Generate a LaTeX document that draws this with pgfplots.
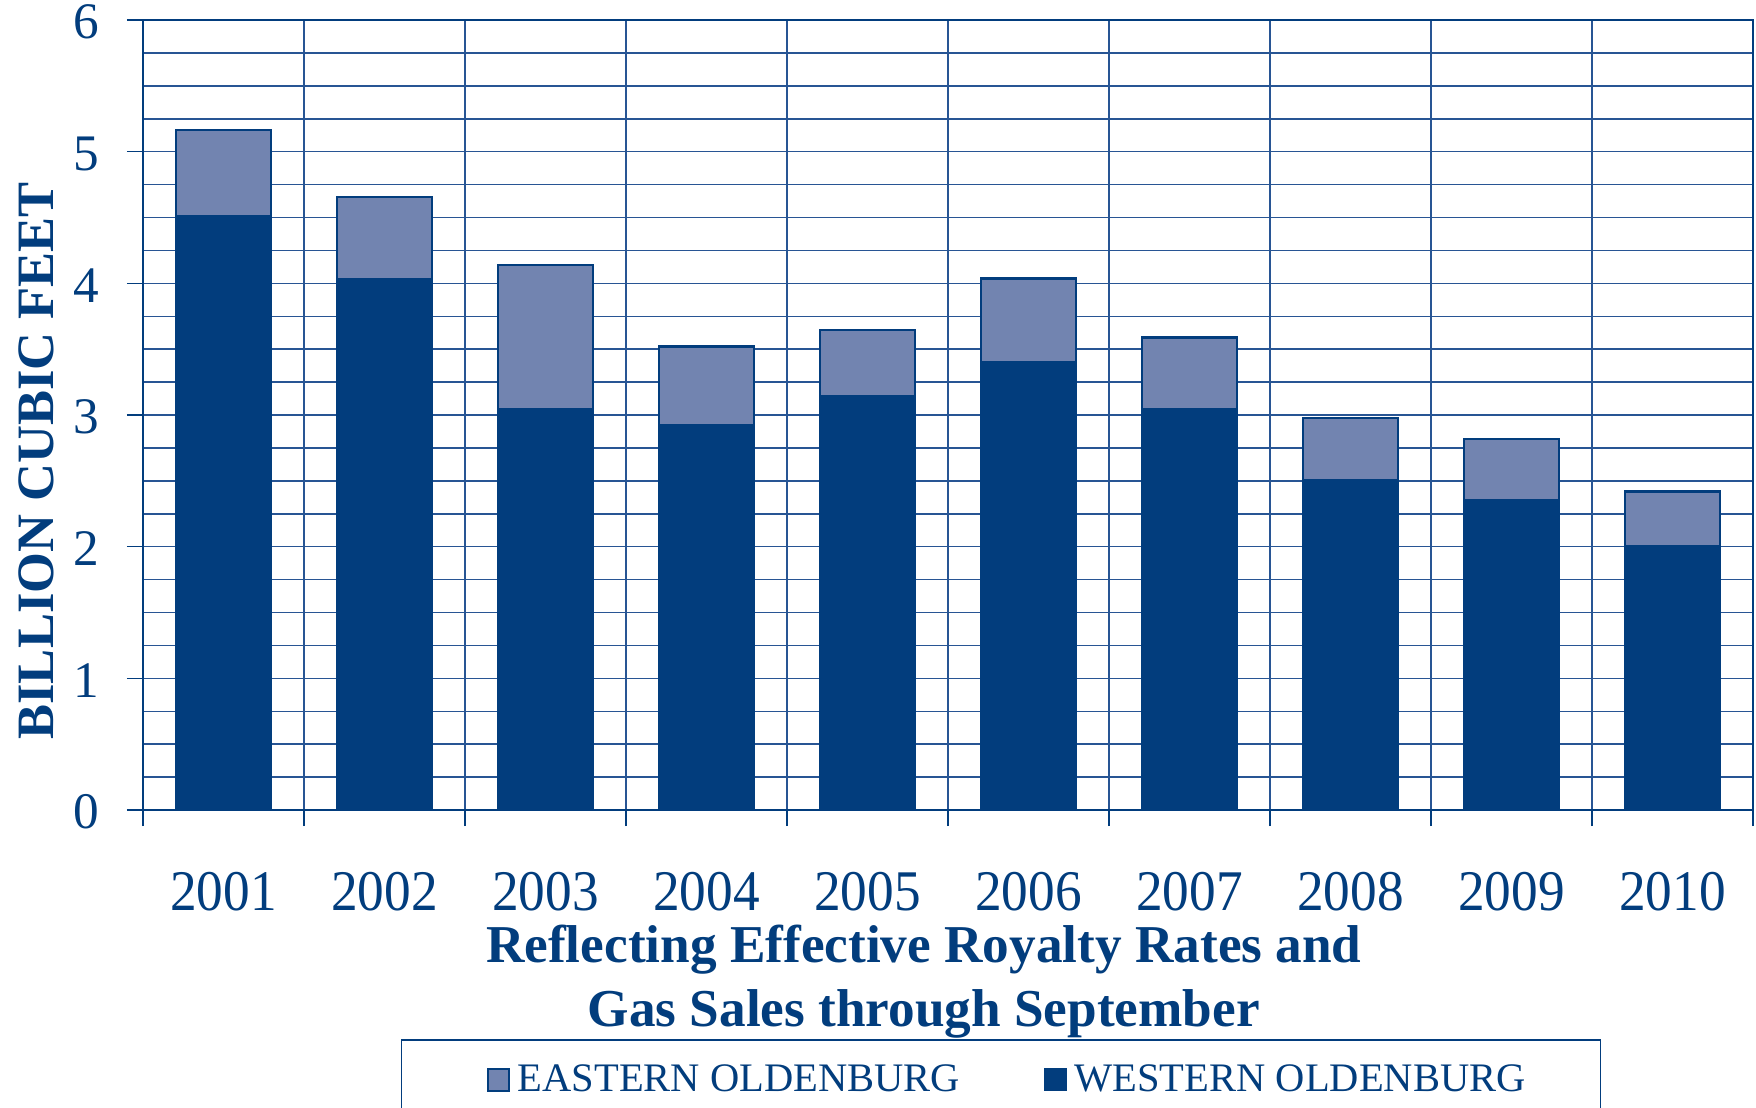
\documentclass[border=0pt]{standalone}
\usepackage{fontspec}
\setmainfont{Liberation Serif}
\usepackage{pgfplots}
\pgfplotsset{compat=1.18}
\definecolor{navy}{RGB}{2,61,125}
\definecolor{lightb}{RGB}{114,132,176}
\definecolor{gridc}{RGB}{40,85,148}
\begin{document}
\begin{tikzpicture}
\useasboundingbox (-57.2pt,-118.8pt) rectangle (645.2pt,324pt);
\begin{axis}[
  at={(0pt,0pt)}, anchor=south west,
  scale only axis, width=644pt, height=316pt,
  ybar stacked, bar width=38pt,
  xmin=-0.5, xmax=9.5, ymin=0, ymax=6,
  xtick={-0.5,0.5,...,9.5}, xticklabels={},
  extra x ticks={0,1,2,3,4,5,6,7,8,9},
  extra x tick labels={2001,2002,2003,2004,2005,2006,2007,2008,2009,2010},
  extra x tick style={major tick length=0pt, grid=none,
    tick label style={yshift=-21pt, font=\fontsize{21.3}{25}\selectfont, yscale=1.08}},
  ytick={0,1,2,3,4,5,6},
  minor ytick={0.25,0.5,0.75,1.25,1.5,1.75,2.25,2.5,2.75,3.25,3.5,3.75,4.25,4.5,4.75,5.25,5.5,5.75},
  grid=both,
  major grid style={gridc, line width=0.6pt},
  minor grid style={gridc, line width=0.6pt},
  tick align=outside, major tick length=6.4pt, minor tick length=0pt,
  tick style={navy, line width=0.6pt},
  xtick pos=bottom, ytick pos=left,
  axis line style={navy, line width=1pt},
  tick label style={font=\fontsize{21}{25}\selectfont, text=navy},
  yticklabel style={xshift=-7.6pt, yshift=-0.8pt, inner ysep=0pt, font=\fontsize{20.5}{24}\selectfont},
  /pgf/number format/assume math mode=true,
  ylabel={BILLION CUBIC FEET},
  ylabel style={font=\bfseries\fontsize{21}{25}\selectfont, text=navy, at={(axis description cs:-0.0665,0.442)}, anchor=center},
  xlabel={Reflecting Effective Royalty Rates and\\Gas Sales through September},
  xlabel style={align=center, font=\bfseries\fontsize{21.3}{25.6}\selectfont, text=navy, at={(axis description cs:0.485,-0.134)}, anchor=north},
  legend style={at={(axis description cs:0.16,-0.29)}, anchor=north west, draw=navy, line width=0.6pt,
    font=\fontsize{16.2}{20}\selectfont, text=navy, inner xsep=28pt, inner ysep=8pt,
    /tikz/every even column/.append style={column sep=31.8pt}},
  legend columns=2,
  reverse legend,
]
\addplot[fill=navy, draw=navy, line width=0.6pt,
  legend image code/.code={\path (0pt,0pt) (9.4pt,0pt); \draw[fill=navy,draw=navy] (0pt,-4.2pt) rectangle (8.4pt,4.6pt);}]
  coordinates {(0,4.51) (1,4.035) (2,3.045) (3,2.925) (4,3.145) (5,3.40) (6,3.043) (7,2.503) (8,2.352) (9,2.003)};
\addlegendentry{WESTERN OLDENBURG}
\addplot[fill=lightb, draw=navy, line width=0.9pt,
  legend image code/.code={\path (0pt,0pt) (15.7pt,0pt); \draw[fill=lightb,draw=navy,line width=0.9pt] (6.3pt,-4.2pt) rectangle (14.7pt,4.6pt);}]
  coordinates {(0,0.657) (1,0.618) (2,1.097) (3,0.595) (4,0.498) (5,0.636) (6,0.545) (7,0.474) (8,0.465) (9,0.417)};
\addlegendentry{EASTERN OLDENBURG}
\end{axis}
\end{tikzpicture}
\end{document}
